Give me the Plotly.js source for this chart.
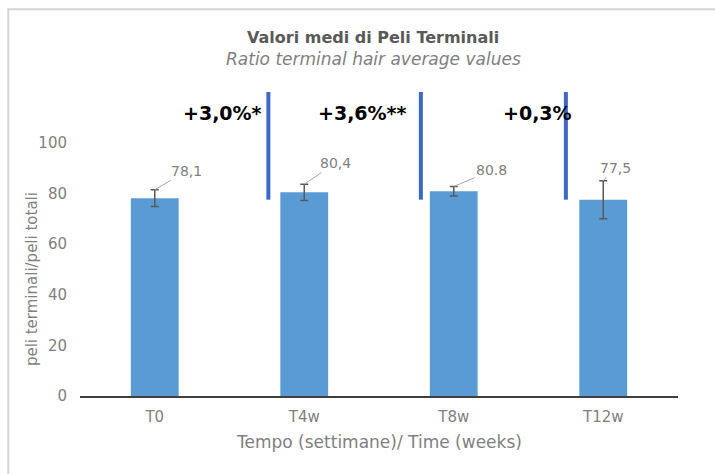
<!DOCTYPE html>
<html>
<head>
<meta charset="utf-8">
<script src="https://cdn.plot.ly/plotly-3.0.1.min.js"></script>
<style>html,body{margin:0;padding:0;background:#fff;}#chart{width:715px;height:474px;}</style>
</head>
<body>
<div id="chart"></div>
<script>
const categories = ["T0", "T4w", "T8w", "T12w"];
const values = [78.1, 80.4, 80.8, 77.5];
const errors = [3.3, 3.2, 1.9, 7.5];
const valueLabels = ["78,1", "80,4", "80.8", "77,5"];
const changeLabels = ["+3,0%*", "+3,6%**", "+0,3%"];
const changeX = [0.456, 1.39, 2.557];
const separatorX = [0.76, 1.78, 2.75];
const yTicks = [0, 20, 40, 60, 80, 100];

const FONT = "DejaVu Sans, sans-serif";
const labelOffsets = [[32, -19], [31, -21], [38, -16], [12, -13]];

const annotations = [];
categories.forEach((c, i) => {
  annotations.push({
    x: c, y: values[i] + errors[i], xref: 'x', yref: 'y',
    text: valueLabels[i], showarrow: true, arrowhead: 0, arrowwidth: 1,
    arrowcolor: '#a6a6a6', standoff: 0, ax: labelOffsets[i][0], ay: labelOffsets[i][1],
    font: {family: FONT, size: 14, color: '#7f7f7f'}
  });
});
changeLabels.forEach((t, i) => {
  annotations.push({
    x: changeX[i], y: 111.9, xref: 'x', yref: 'y', text: '<b>' + t + '</b>',
    showarrow: false, font: {family: FONT, size: 19, color: '#000000'}
  });
});
annotations.push({x: 0.49, y: 1.18, xref: 'paper', yref: 'paper', xanchor: 'center', yanchor: 'middle',
  text: '<b>Valori medi di Peli Terminali</b>', showarrow: false,
  font: {family: FONT, size: 16, color: '#595959'}});
annotations.push({x: 0.49, y: 1.108, xref: 'paper', yref: 'paper', xanchor: 'center', yanchor: 'middle',
  text: '<i>Ratio terminal hair average values</i>', showarrow: false,
  font: {family: FONT, size: 17, color: '#7f7f7f'}});
annotations.push({x: -0.08, y: 0.385, xref: 'paper', yref: 'paper', xanchor: 'center', yanchor: 'middle',
  textangle: -90, text: 'peli terminali/peli totali', showarrow: false,
  font: {family: FONT, size: 15, color: '#7f7f7f'}});
annotations.push({x: 0.5, y: -0.151, xref: 'paper', yref: 'paper', xanchor: 'center', yanchor: 'middle',
  text: 'Tempo (settimane)/ Time (weeks)', showarrow: false,
  font: {family: FONT, size: 17, color: '#7f7f7f'}});

const shapes = separatorX.map(x => ({
  type: 'line', xref: 'x', yref: 'y', x0: x, x1: x, y0: 77.5, y1: 120,
  line: {color: '#3e68c6', width: 4}
}));
shapes.push({type: 'rect', xref: 'paper', yref: 'paper', x0: -0.12, x1: 1.12, y0: -0.3, y1: 1.272,
  line: {color: '#d6d6d6', width: 2}, layer: 'below'});

const trace = {
  type: 'bar', x: categories, y: values, width: 0.32,
  marker: {color: '#5b9bd5'},
  error_y: {type: 'data', array: errors, visible: true, color: '#595959', thickness: 1.5, width: 4},
  hoverinfo: 'none'
};

const layout = {
  width: 715, height: 474,
  margin: {l: 80, r: 37, t: 92, b: 78},
  paper_bgcolor: '#ffffff', plot_bgcolor: '#ffffff',
  showlegend: false,
  xaxis: {showline: true, linecolor: '#404040', linewidth: 1.5, ticks: '', showgrid: false,
    ticklabelstandoff: 6,
    tickfont: {family: FONT, size: 15, color: '#7f7f7f'}, zeroline: false},
  yaxis: {range: [0, 120], tickvals: yTicks, showgrid: false, zeroline: false, showline: false,
    ticks: '', ticklabelstandoff: 12, tickfont: {family: FONT, size: 15, color: '#7f7f7f'}},
  annotations: annotations, shapes: shapes,
  font: {family: FONT}
};

Plotly.newPlot('chart', [trace], layout, {displayModeBar: false, staticPlot: true});
</script>
</body>
</html>
